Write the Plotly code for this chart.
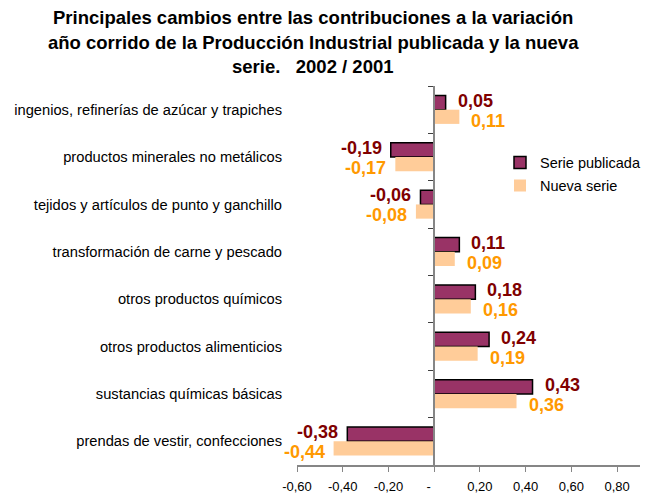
import plotly.graph_objects as go

categories = [
    "ingenios, refinerías de azúcar y trapiches",
    "productos minerales no metálicos",
    "tejidos y artículos de punto y ganchillo",
    "transformación de carne y pescado",
    "otros productos químicos",
    "otros productos alimenticios",
    "sustancias químicas básicas",
    "prendas de vestir, confecciones",
]
serie_publicada = [0.05, -0.19, -0.06, 0.11, 0.18, 0.24, 0.43, -0.38]
nueva_serie = [0.11, -0.17, -0.08, 0.09, 0.16, 0.19, 0.36, -0.44]
tick_vals = [-0.6, -0.4, -0.2, 0, 0.2, 0.4, 0.6, 0.8]
tick_text = ["-0,60", "-0,40", "-0,20", "-\u00a0\u00a0\u00a0", "0,20", "0,40", "0,60", "0,80"]

title_lines = [
    "Principales cambios entre las contribuciones a la variación",
    "año corrido de la Producción Industrial publicada y la nueva",
    "serie.   2002 / 2001",
]

FONT = "Liberation Sans, Arial, sans-serif"
PURPLE = "#993366"
PEACH = "#FFCC99"
DARKRED = "#800000"
ORANGE = "#FF9900"

W, H = 655, 494
ML, MR, MT, MB = 297, 15, 86, 29
PW = W - ML - MR


def fmt(v):
    return f"{v:.2f}".replace(".", ",")


fig = go.Figure()
fig.add_trace(go.Bar(
    y=categories, x=serie_publicada, orientation="h", name="Serie publicada",
    marker=dict(color=PURPLE, line=dict(color="black", width=1.5)),
    legendgroup="a",
))
fig.add_trace(go.Bar(
    y=categories, x=nueva_serie, orientation="h", name="Nueva serie",
    marker=dict(color=PEACH, line=dict(width=0)),
    legendgroup="b",
))
# invisible trace to anchor the zero-line category axis (yaxis2)
fig.add_trace(go.Scatter(x=[0] * len(categories), y=categories, yaxis="y2",
                         mode="markers", marker=dict(opacity=0), showlegend=False,
                         hoverinfo="skip"))

annotations = []
for cat, v in zip(categories, serie_publicada):
    annotations.append(dict(
        x=v, y=cat, xref="x", yref="y", text=f"<b>{fmt(v)}</b>", showarrow=False,
        xanchor="left" if v >= 0 else "right", xshift=10 if v >= 0 else -7,
        yshift=9, font=dict(family=FONT, size=18, color=DARKRED)))
for cat, v in zip(categories, nueva_serie):
    annotations.append(dict(
        x=v, y=cat, xref="x", yref="y", text=f"<b>{fmt(v)}</b>", showarrow=False,
        xanchor="left" if v >= 0 else "right", xshift=10 if v >= 0 else -7,
        yshift=-11, font=dict(family=FONT, size=18, color=ORANGE)))

# title lines (centres at y = 17, 42, 66 px from top; centred at x = 313 px)
title_centres = [17, 42, 66]
for line, yc in zip(title_lines, title_centres):
    annotations.append(dict(
        x=(313 - ML) / PW, y=1, xref="paper", yref="paper", xanchor="center",
        yanchor="middle", yshift=MT - yc, showarrow=False, text=f"<b>{line}</b>",
        font=dict(family=FONT, size=18.5, color="black")))

fig.update_layout(
    width=W, height=H,
    margin=dict(l=ML, r=MR, t=MT, b=MB, autoexpand=False),
    paper_bgcolor="white", plot_bgcolor="white",
    barmode="group", bargap=0.4, bargroupgap=0,
    font=dict(family=FONT, size=13, color="black"),
    showlegend=True,
    legend=dict(x=(500 - ML) / PW, y=0.84, xanchor="left", yanchor="top",
                bgcolor="rgba(0,0,0,0)", traceorder="grouped", tracegroupgap=1,
                font=dict(family=FONT, size=14.5, color="black")),
    xaxis=dict(range=[-0.6, 0.9], tickvals=tick_vals, ticktext=tick_text,
               showgrid=False, zeroline=False, showline=True, linecolor="#868686",
               linewidth=1.5, ticks="outside", ticklen=5, tickcolor="#868686",
               ticklabelstandoff=4, automargin=False,
               tickfont=dict(family=FONT, size=13, color="black"), fixedrange=True),
    yaxis=dict(autorange="reversed", showgrid=False, zeroline=False, showline=False,
               ticks="", ticklabelstandoff=14, automargin=False,
               tickfont=dict(family=FONT, size=14.7, color="black")),
    yaxis2=dict(matches="y", overlaying="y", anchor="free", position=0.4,
                side="left", showgrid=False, zeroline=False, showline=True,
                linecolor="#868686", linewidth=1.5, ticks="outside", ticklen=5,
                tickcolor="#404040", tickson="boundaries", showticklabels=False,
                automargin=False,
                categoryorder="array", categoryarray=categories),
    annotations=annotations,
)

fig.write_html("out.html", config={"displayModeBar": False},
               post_script="document.body.style.margin='0';")
